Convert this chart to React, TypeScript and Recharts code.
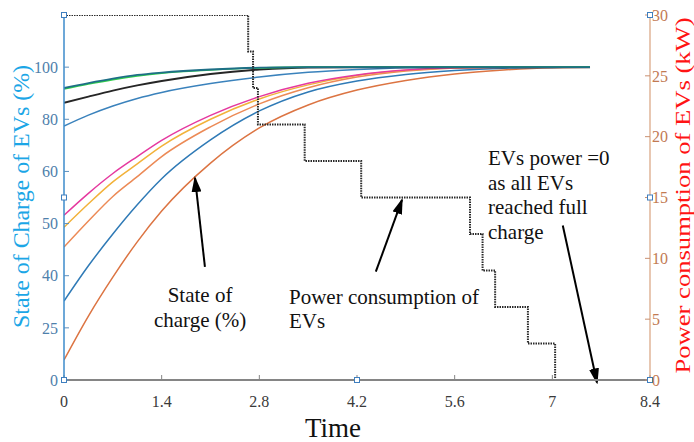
import React from 'react';
import { LineChart, Line, XAxis, YAxis, ReferenceDot, ReferenceLine, Label } from 'recharts';

// Left axis: tick labels sit on evenly spaced positions
const SOC_TICKS = [0, 25, 40, 50, 60, 80, 100];
const POWER_TICKS = [0, 5, 10, 15, 20, 25, 30];
const TIME_TICKS = [0, 1.4, 2.8, 4.2, 5.6, 7, 8.4];

// Sample times (h) for the state-of-charge curves
const TIMES = [0, 0.35, 0.7, 1.05, 1.4, 2.1, 2.8, 3.5, 4.2, 4.9, 5.6, 6.3, 7.0, 7.54];

// State of charge (%) per EV at each sample time
const SOC_EV1 = [92.0, 93.9, 95.6, 97.0, 97.9, 99.1, 99.8, 100, 100, 100, 100, 100, 100, 100];
const SOC_EV2 = [91.6, 93.5, 95.2, 96.6, 97.7, 98.9, 99.7, 100, 100, 100, 100, 100, 100, 100];
const SOC_EV3 = [86.3, 88.7, 91.0, 93.0, 94.7, 97.4, 99.1, 99.9, 100, 100, 100, 100, 100, 100];
const SOC_EV4 = [77.4, 81.6, 85.1, 88.0, 90.3, 93.7, 96.2, 98.0, 99.1, 99.8, 100, 100, 100, 100];
const SOC_EV5 = [51.6, 55.8, 59.6, 65.7, 71.9, 81.5, 88.7, 93.8, 97.0, 98.9, 99.8, 100, 100, 100];
const SOC_EV6 = [49.3, 53.8, 58.0, 62.9, 69.7, 80.0, 87.8, 93.2, 96.8, 98.8, 99.8, 100, 100, 100];
const SOC_EV7 = [45.5, 50.5, 55.2, 59.0, 65.7, 77.1, 85.9, 92.1, 96.2, 98.5, 99.7, 100, 100, 100];
const SOC_EV8 = [32.7, 41.9, 48.0, 53.6, 58.6, 72.1, 83.2, 90.5, 94.7, 97.2, 98.7, 99.6, 99.9, 100];
const SOC_EV9 = [9.6, 28.4, 39.6, 46.5, 52.4, 63.2, 76.7, 85.5, 91.2, 94.9, 97.4, 98.9, 99.8, 100];

// Total EV power consumption (kW), a step after each EV finishes
const POWER_TIMES = [0, 2.64, 2.71, 2.78, 3.45, 4.26, 5.82, 6.0, 6.18, 6.65, 7.04, 7.54];
const POWER_KW = [30, 27, 24, 21, 18, 15, 12, 9, 6, 3, 0, 0];

const SERIES = [
  { key: 'ev9', values: SOC_EV9, color: '#dc7442', width: 1.5 },
  { key: 'ev8', values: SOC_EV8, color: '#2f7ab6', width: 1.5 },
  { key: 'ev7', values: SOC_EV7, color: '#ec8a56', width: 1.5 },
  { key: 'ev6', values: SOC_EV6, color: '#f2b23a', width: 1.5 },
  { key: 'ev5', values: SOC_EV5, color: '#e5399f', width: 1.5 },
  { key: 'ev4', values: SOC_EV4, color: '#3a82bc', width: 1.5 },
  { key: 'ev3', values: SOC_EV3, color: '#262626', width: 2 },
  { key: 'ev2', values: SOC_EV2, color: '#2fcf4a', width: 1.6 },
  { key: 'ev1', values: SOC_EV1, color: '#1e6f86', width: 1.8 },
];

// Position of a SOC value on the left axis (in tick-slot units)
function socToAxis(v: number): number {
  for (let i = 0; i < SOC_TICKS.length - 1; i++) {
    const a = SOC_TICKS[i];
    const b = SOC_TICKS[i + 1];
    if (v <= b) return i + (v - a) / (b - a);
  }
  return SOC_TICKS.length - 1;
}

const socRows = TIMES.map((t, i) => {
  const row: Record<string, number> = { t };
  SERIES.forEach((s) => {
    row[s.key] = socToAxis(s.values[i]);
  });
  return row;
});

const powerRows = POWER_TIMES.map((t, i) => ({ t, kw: POWER_KW[i] }));

const FONT = '"Liberation Serif", "Times New Roman", serif';

const axisSquare = (p: any) => (
  <rect x={p.cx - 2.5} y={p.cy - 2.5} width={5} height={5} fill="#ffffff" stroke="#3f7fbf" strokeWidth={1} />
);

const arrowShape = (p: any) => (
  <line x1={p.x1} y1={p.y1} x2={p.x2} y2={p.y2} stroke="#000" strokeWidth={2} markerEnd="url(#arrowHead)" />
);

const noteText = (lines: string[], anchor: 'start' | 'middle') => (p: any) => (
  <text x={p.cx} y={p.cy} fill="#111" fontSize={21} fontFamily={FONT} textAnchor={anchor}>
    {lines.map((l, i) => (
      <tspan key={i} x={p.cx} dy={i === 0 ? 0 : 24.5}>
        {l}
      </tspan>
    ))}
  </text>
);

export default function App() {
  return (
    <div style={{ position: 'absolute', left: 0, top: 0, width: 694, height: 442, background: '#fff' }}>
      <svg width={0} height={0} style={{ position: 'absolute' }}>
        <defs>
          <marker id="arrowHead" viewBox="0 0 16 10" refX={14} refY={5} markerWidth={8} markerHeight={5} orient="auto">
            <path d="M0,0 L16,5 L0,10 z" fill="#000" />
          </marker>
        </defs>
      </svg>
      <LineChart width={694} height={442} data={socRows} margin={{ top: 15, right: 0, bottom: 0, left: 0 }}>
        <XAxis
          dataKey="t"
          type="number"
          domain={[0, 8.4]}
          ticks={TIME_TICKS}
          interval={0}
          height={62}
          tickSize={-5}
          tickMargin={21}
          axisLine={{ stroke: '#858585', strokeWidth: 2 }}
          tickLine={{ stroke: '#858585' }}
          tick={{ fill: '#3a3a3a', fontSize: 16, fontFamily: FONT }}
          allowDataOverflow
        >
          <Label
            content={(p: any) => (
              <text x={p.viewBox.x + 269} y={p.viewBox.y + 57} textAnchor="middle" fontSize={27} fontFamily={FONT} fill="#111">
                Time
              </text>
            )}
          />
        </XAxis>
        <YAxis
          yAxisId="soc"
          type="number"
          domain={[0, 7]}
          ticks={[0, 1, 2, 3, 4, 5, 6]}
          tickFormatter={(i: number) => String(SOC_TICKS[i])}
          width={64}
          tickSize={-5}
          tickMargin={11}
          axisLine={{ stroke: '#3d8bcb', strokeWidth: 1.5 }}
          tickLine={{ stroke: '#5a8fbf' }}
          tick={{ fill: '#4e80ab', fontSize: 16, fontFamily: FONT }}
          allowDataOverflow
        >
          <Label
            content={(p: any) => {
              const x = p.viewBox.x + 21;
              const y = p.viewBox.y + p.viewBox.height / 2 - 1;
              return (
                <text
                  x={x}
                  y={y}
                  transform={`rotate(-90 ${x} ${y})`}
                  textAnchor="middle"
                  dominantBaseline="central"
                  fontSize={23}
                  fontFamily={FONT}
                  fill="#1ba6e6"
                  textLength={263}
                  lengthAdjust="spacingAndGlyphs"
                >
                  State of Charge of EVs (%)
                </text>
              );
            }}
          />
        </YAxis>
        <YAxis
          yAxisId="kw"
          orientation="right"
          type="number"
          domain={[0, 30]}
          ticks={POWER_TICKS}
          width={44}
          tickSize={-5}
          tickMargin={7}
          axisLine={{ stroke: '#d8a27f', strokeWidth: 1.2 }}
          tickLine={{ stroke: '#c99070' }}
          tick={{ fill: '#c27a52', fontSize: 16, fontFamily: FONT }}
          allowDataOverflow
        >
          <Label
            content={(p: any) => {
              const x = p.viewBox.x + 33;
              const y = p.viewBox.y + p.viewBox.height / 2 - 2;
              return (
                <text
                  x={x}
                  y={y}
                  transform={`rotate(-90 ${x} ${y})`}
                  textAnchor="middle"
                  dominantBaseline="central"
                  fontSize={21}
                  fontFamily={FONT}
                  fill="#ff1414"
                  textLength={356}
                  lengthAdjust="spacingAndGlyphs"
                >
                  Power consumption of EVs (kW)
                </text>
              );
            }}
          />
        </YAxis>

        {SERIES.map((s) => (
          <Line
            key={s.key}
            yAxisId="soc"
            dataKey={s.key}
            type="monotone"
            stroke={s.color}
            strokeWidth={s.width}
            dot={false}
            isAnimationActive={false}
          />
        ))}

        <Line
          yAxisId="kw"
          data={powerRows}
          dataKey="kw"
          type="stepAfter"
          stroke="#2a2a2a"
          strokeWidth={2}
          strokeDasharray="1.5 1"
          dot={false}
          isAnimationActive={false}
        />

        <ReferenceDot yAxisId="soc" x={0} y={0} shape={axisSquare} ifOverflow="visible" />
        <ReferenceDot yAxisId="soc" x={0} y={3.5} shape={axisSquare} ifOverflow="visible" />
        <ReferenceDot yAxisId="soc" x={0} y={7} shape={axisSquare} ifOverflow="visible" />
        <ReferenceDot yAxisId="kw" x={8.4} y={0} shape={axisSquare} ifOverflow="visible" />
        <ReferenceDot yAxisId="kw" x={8.4} y={15} shape={axisSquare} ifOverflow="visible" />
        <ReferenceDot yAxisId="kw" x={8.4} y={30} shape={axisSquare} ifOverflow="visible" />
        <ReferenceDot yAxisId="kw" x={4.2} y={0} shape={axisSquare} ifOverflow="visible" />

        <ReferenceLine yAxisId="kw" segment={[{ x: 2.02, y: 9.3 }, { x: 1.878, y: 16.6 }]} shape={arrowShape} ifOverflow="visible" />
        <ReferenceLine yAxisId="kw" segment={[{ x: 4.47, y: 8.9 }, { x: 4.845, y: 14.8 }]} shape={arrowShape} ifOverflow="visible" />
        <ReferenceLine yAxisId="kw" segment={[{ x: 7.15, y: 12.7 }, { x: 7.64, y: -0.2 }]} shape={arrowShape} ifOverflow="visible" />

        <ReferenceDot yAxisId="kw" x={1.95} y={6.4} shape={noteText(['State of', 'charge (%)'], 'middle')} ifOverflow="visible" />
        <ReferenceDot yAxisId="kw" x={3.225} y={6.25} shape={noteText(['Power consumption of', 'EVs'], 'start')} ifOverflow="visible" />
        <ReferenceDot
          yAxisId="kw"
          x={6.078}
          y={17.67}
          shape={noteText(['EVs power =0', 'as all EVs', 'reached full', 'charge'], 'start')}
          ifOverflow="visible"
        />
      </LineChart>
    </div>
  );
}
